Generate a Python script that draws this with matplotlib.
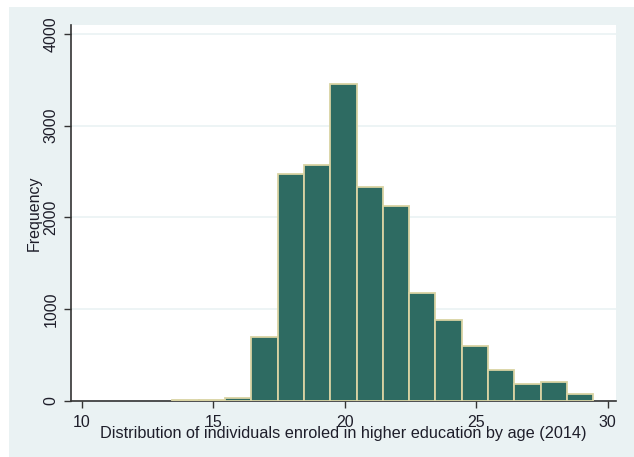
import matplotlib.pyplot as plt
from matplotlib.patches import Rectangle

# age bins (left edge, width 1 year) and counts
bin_left = [13.45, 14.45, 15.45, 16.45, 17.45, 18.45, 19.45, 20.45,
            21.45, 22.45, 23.45, 24.45, 25.45, 26.45, 27.45, 28.45]
counts = [8, 12, 35, 694, 2474, 2572, 3455, 2329,
          2129, 1174, 880, 600, 338, 189, 207, 76]
xticks = [10, 15, 20, 25, 30]
yticks = [0, 1000, 2000, 3000, 4000]

plt.rcParams["font.family"] = ["Liberation Sans", "DejaVu Sans"]

W, H = 634, 457
fig = plt.figure(figsize=(W / 100, H / 100), dpi=100)
fig.patch.set_facecolor("white")

# graph region panel
fig.patches.append(Rectangle((9 / W, 0), 1 - 9 / W, 1 - 7 / H,
                             transform=fig.transFigure,
                             facecolor="#EAF2F3", edgecolor="none", zorder=-1))

ax = fig.add_axes([71 / W, 1 - 401 / H, (616 - 71) / W, (401 - 25) / H])
ax.set_zorder(1)
ax.set_facecolor("white")

ax.bar(bin_left, counts, width=1, align="edge",
       color="#2E6B62", edgecolor="#D9D3A3", linewidth=1.3, zorder=3)

ax.set_xlim(9.59, 30.32)
ax.set_ylim(0, 4098)
ax.set_xticks(xticks)
ax.set_yticks(yticks)
ax.set_yticklabels([str(v) for v in yticks], rotation=90, va="center")
ax.grid(axis="y", color="#EAF2F3", linewidth=1.2, zorder=0)

for s in ["top", "right"]:
    ax.spines[s].set_visible(False)
for s in ["left", "bottom"]:
    ax.spines[s].set_color("#333333")
    ax.spines[s].set_linewidth(1.2)

ax.tick_params(axis="both", direction="out", length=5, width=1,
               color="#333333", labelsize=11.5, labelcolor="#1E1E2A")
ax.tick_params(axis="x", pad=5)
ax.tick_params(axis="y", pad=4)

ax.set_ylabel("Frequency", fontsize=11.5, color="#1E1E2A", labelpad=1)
ax.set_xlabel("Distribution of individuals enroled in higher education by age (2014)",
              fontsize=11.7, color="#1E1E2A", labelpad=-3)

fig.savefig("out.png", dpi=100, facecolor="white")
